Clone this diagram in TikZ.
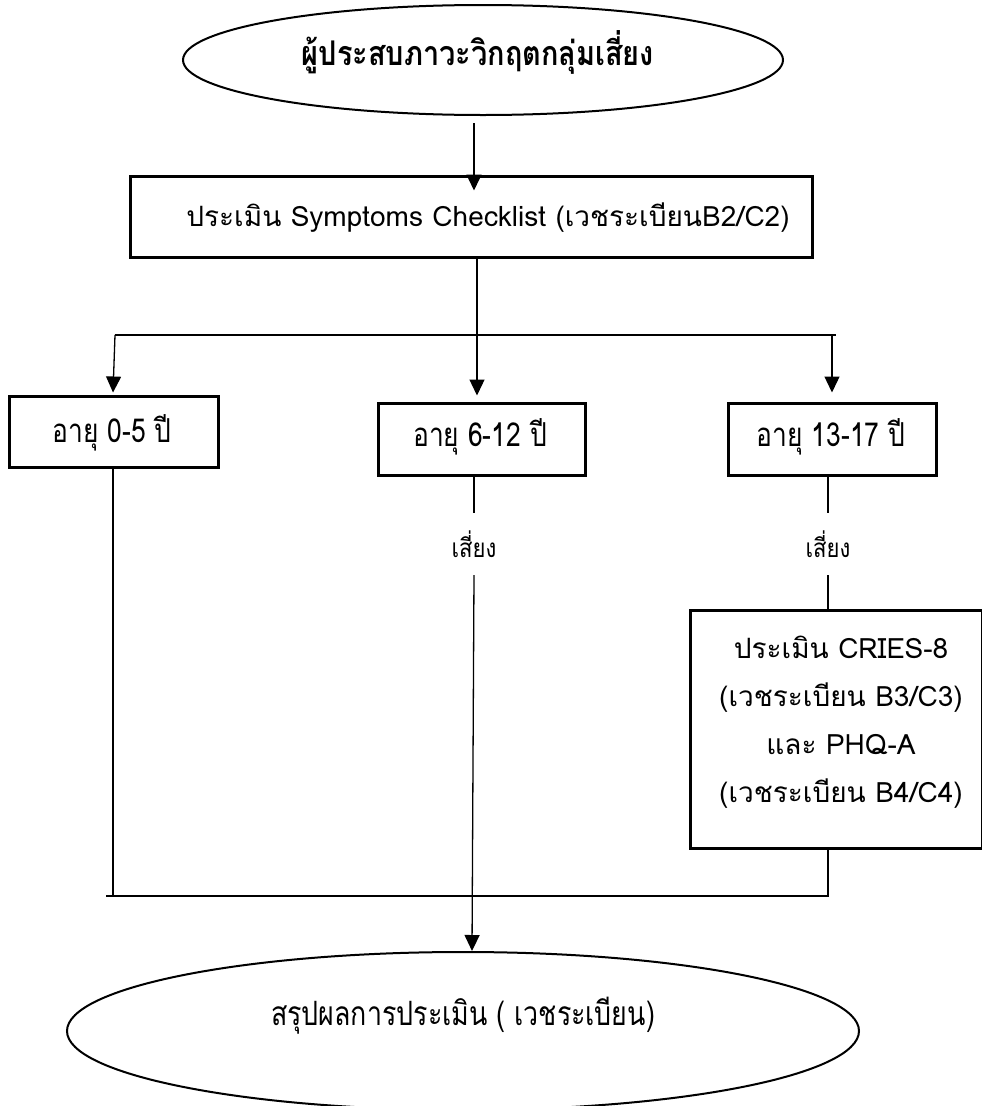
\documentclass[tikz,border=0pt]{standalone}
\usepackage{fontspec}
\setmainfont[Script=Thai]{Loma}
\usetikzlibrary{shapes.geometric,arrows.meta,calc}
\begin{document}
\begin{tikzpicture}[x=1pt,y=-1pt,
  boxst/.style={draw, line width=3pt, inner sep=0pt},
  ellst/.style={draw, ellipse, line width=2pt, inner sep=0pt},
  conn/.style={line width=1.3pt},
  arr/.style={line width=1.3pt, -{Triangle[length=16pt,width=15pt]}},
  txt/.style={inner sep=0pt, font=\fontsize{28}{48}\selectfont},
  cond/.style={inner sep=0pt, font=\fontsize{33}{38}\selectfont},
  lbl/.style={inner sep=0pt, minimum height=62pt, font=\fontsize{26}{30}\selectfont}]
\useasboundingbox (0,0) rectangle (982,1106);
\clip (0,0) rectangle (982,1106);
% shapes
\node[ellst, minimum width=600pt, minimum height=110pt] (top) at (483,60) {};
\node[boxst, minimum width=682pt, minimum height=81pt] (box1) at (471,216.5) {};
\node[boxst, minimum width=209pt, minimum height=71pt] (b05) at (114,431.5) {};
\node[boxst, minimum width=207pt, minimum height=72pt] (b612) at (481.5,439) {};
\node[boxst, minimum width=208pt, minimum height=72pt] (b1317) at (832,439) {};
\node[boxst, minimum width=292pt, minimum height=238pt] (rbox) at (836,729) {};
\node[ellst, minimum width=792pt, minimum height=158pt] (bot) at (463,1031) {};
% texts
\node[inner sep=0pt, font=\fontsize{34}{40}\selectfont\bfseries] (ttop) at (478,52) {\scalebox{0.85}[1]{ผู้ประสบภาวะวิกฤตกลุ่มเสี่ยง}};
\node[txt] (t1) at (488,218) {ประเมิน Symptoms Checklist (เวชระเบียนB2/C2)};
\node[cond] (t05) at (112,433) {\scalebox{0.8}[1]{อายุ 0-5 ปี}};
\node[cond] (t612) at (480,437) {\scalebox{0.8}[1]{อายุ 6-12 ปี}};
\node[cond] (t1317) at (831,437) {\scalebox{0.8}[1]{อายุ 13-17 ปี}};
\node[txt, align=center] (tr) at (841,722) {ประเมิน CRIES-8\\(เวชระเบียน B3/C3)\\และ PHQ-A\\(เวชระเบียน B4/C4)};
\node[inner sep=0pt, font=\fontsize{33.5}{38}\selectfont] (tbot) at (463,1016) {\scalebox{0.8}[1]{สรุปผลการประเมิน ( เวชระเบียน)}};
\node[lbl] (r1) at (474,544) {\scalebox{0.85}[1]{เสี่ยง}};
\node[lbl] (r2) at (828,544) {\scalebox{0.85}[1]{เสี่ยง}};
% connectors
\coordinate (hL) at (115,335);
\coordinate (hR) at (832,335);
\coordinate (bL) at (113,896);
\coordinate (bR) at (828,896);
\draw[arr] ($(top.south)+(-9,7)$) -- ($(box1.north)+(3,16)$);
\draw[arr] ($(box1.south)+(6,0)$) -- ($(b612.north)+(-4.5,-6)$);
\draw[conn] (hL) -- ($(hR)+(4,0)$);
\draw[arr] (hL) -- ($(b05.north)+(-1,-2)$);
\draw[arr] (hR) -- ($(b1317.north)+(0,-9)$);
\draw[conn] (b05.south -| bL) -- (bL);
\draw[conn] ($(bL)+(-7,0)$) -- (bR) -- (bR |- rbox.south);
\draw[conn] ($(b612.south)+(-7.5,0)$) -- (r1.north);
\draw[arr] (r1.south) -- ($(bot.north)+(9,0)$);
\draw[conn] ($(b1317.south)+(-4,0)$) -- (r2.north);
\draw[conn] (r2.south) -- (r2.south |- rbox.north);
\end{tikzpicture}
\end{document}
